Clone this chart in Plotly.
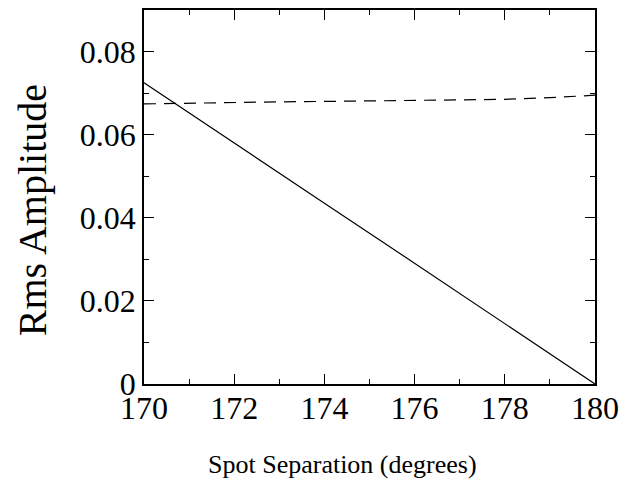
import plotly.graph_objects as go

x_solid = [170, 171, 172, 173, 174, 175, 176, 177, 178, 179, 180]
y_solid = [0.0725, 0.0652, 0.0580, 0.0508, 0.0435, 0.0363, 0.0290, 0.0218, 0.0146, 0.0073, 0.0]

x_dash = [170, 171, 172, 173, 174, 175, 176, 177, 178, 179, 180]
y_dash = [0.0674, 0.0676, 0.0677, 0.0679, 0.0680, 0.0681, 0.0682, 0.0684, 0.0685, 0.0689, 0.0695]

x_ticks = [170, 172, 174, 176, 178, 180]
x_ticktext = ["170", "172", "174", "176", "178", "180"]
y_ticks = [0, 0.02, 0.04, 0.06, 0.08]
y_ticktext = ["0", "0.02", "0.04", "0.06", "0.08"]

x_title = "Spot Separation (degrees)"
y_title = "Rms Amplitude"

FONT = "Liberation Serif, Times New Roman, serif"

fig = go.Figure()
fig.add_trace(go.Scatter(x=x_solid, y=y_solid, mode="lines",
                         line=dict(color="black", width=1.2), showlegend=False))
fig.add_trace(go.Scatter(x=x_dash, y=y_dash, mode="lines",
                         line=dict(color="black", width=1.2, dash="12px,8px"), showlegend=False))

fig.update_layout(
    width=627, height=487,
    margin=dict(l=144, r=24, t=8, b=103),
    paper_bgcolor="white", plot_bgcolor="white",
    font=dict(family=FONT, color="black"),
    annotations=[
        dict(text=x_title, xref="paper", yref="paper", x=0.440, y=-0.215,
             xanchor="center", yanchor="middle", showarrow=False,
             font=dict(family=FONT, size=26, color="black")),
        dict(text=y_title, xref="paper", yref="paper", x=-0.248, y=0.465,
             xanchor="center", yanchor="middle", showarrow=False, textangle=-90,
             font=dict(family=FONT, size=40, color="black")),
    ],
)
fig.update_xaxes(
    range=[170, 180], tickvals=x_ticks, ticktext=x_ticktext,
    ticks="inside", ticklen=10, tickwidth=1.2, tickcolor="black",
    minor=dict(ticks="inside", ticklen=5, tickwidth=1.2, tickcolor="black", dtick=1, showgrid=False),
    showline=True, linecolor="black", linewidth=1.5, mirror="ticks",
    showgrid=False, zeroline=False, ticklabelstandoff=-5,
    tickfont=dict(family=FONT, size=32, color="black"),
)
fig.update_yaxes(
    range=[0, 0.09], tickvals=y_ticks, ticktext=y_ticktext,
    ticks="inside", ticklen=10, tickwidth=1.2, tickcolor="black",
    minor=dict(ticks="inside", ticklen=5, tickwidth=1.2, tickcolor="black", dtick=0.01, showgrid=False),
    showline=True, linecolor="black", linewidth=1.5, mirror="ticks",
    showgrid=False, zeroline=False,
    tickfont=dict(family=FONT, size=32, color="black"),
)

fig.write_html("out.html")
